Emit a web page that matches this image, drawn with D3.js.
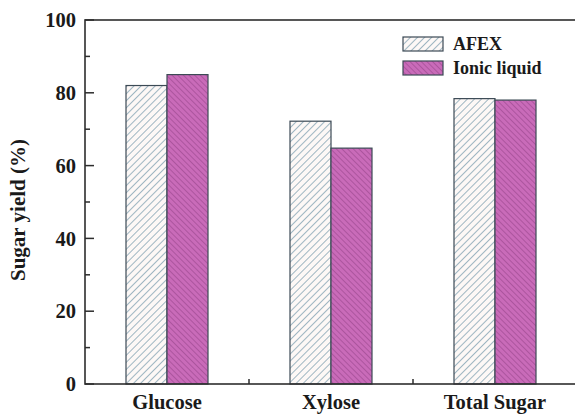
<!DOCTYPE html>
<html>
<head>
<meta charset="utf-8">
<script src="https://cdn.jsdelivr.net/npm/d3@7"></script>
<style>
  html, body { margin: 0; padding: 0; background: #fff; }
  svg { display: block; }
  text { font-family: "Liberation Serif", "DejaVu Serif", serif; font-weight: bold; fill: #1a1a1a; }
</style>
</head>
<body>
<svg id="chart" width="575" height="415"></svg>
<script>
// Sugar yields after enzymatic hydrolysis, by pretreatment
const categories = ["Glucose", "Xylose", "Total Sugar"];
const seriesNames = ["AFEX", "Ionic liquid"];
const afexValues = [82.0, 72.2, 78.4];
const ionicValues = [85.0, 64.8, 78.0];
const majorTicks = [0, 20, 40, 60, 80, 100];
const minorTicks = [10, 30, 50, 70, 90];

const svg = d3.select("#chart");
const plotLeft = 85, plotRight = 577, plotTop = 20, plotBottom = 384;

const x = d3.scaleBand().domain(categories).range([plotLeft, plotRight])
  .paddingInner(0.5).paddingOuter(0.25);
const xs = d3.scaleBand().domain(seriesNames).range([0, x.bandwidth()]);
const y = d3.scaleLinear().domain([0, 100]).range([plotBottom, plotTop]);

// hatch patterns
const defs = svg.append("defs");
const pA = defs.append("pattern").attr("id", "hatchA")
  .attr("patternUnits", "userSpaceOnUse").attr("width", 5).attr("height", 5)
  .attr("patternTransform", "rotate(45)");
pA.append("rect").attr("width", 5).attr("height", 5).attr("fill", "#fdf8f6");
pA.append("line").attr("x1", 0).attr("y1", 0).attr("x2", 0).attr("y2", 5)
  .attr("stroke", "#9fb6c2").attr("stroke-width", 2);

const pI = defs.append("pattern").attr("id", "hatchI")
  .attr("patternUnits", "userSpaceOnUse").attr("width", 4).attr("height", 4)
  .attr("patternTransform", "rotate(-45)");
pI.append("rect").attr("width", 4).attr("height", 4).attr("fill", "#c96bb9");
pI.append("line").attr("x1", 0).attr("y1", 0).attr("x2", 0).attr("y2", 4)
  .attr("stroke", "#a24d95").attr("stroke-width", 1.5);

const fills = ["url(#hatchA)", "url(#hatchI)"];
const series = [afexValues, ionicValues];

// bars
series.forEach((vals, si) => {
  svg.append("g").selectAll("rect").data(categories).join("rect")
    .attr("x", (c) => x(c) + xs(seriesNames[si]))
    .attr("y", (c, i) => y(vals[i]))
    .attr("width", xs.bandwidth())
    .attr("height", (c, i) => y(0) - y(vals[i]))
    .attr("fill", fills[si])
    .attr("stroke", "#3c4a55").attr("stroke-width", 1.2);
});

// frame
svg.append("rect").attr("x", plotLeft).attr("y", plotTop)
  .attr("width", plotRight - plotLeft).attr("height", plotBottom - plotTop)
  .attr("fill", "none").attr("stroke", "#2d2d2d").attr("stroke-width", 1.6);

// y axis ticks (inward) and labels
const yAxis = svg.append("g");
yAxis.append("g").selectAll("line").data(majorTicks).join("line")
  .attr("x1", plotLeft).attr("x2", plotLeft + 9)
  .attr("y1", (d) => y(d)).attr("y2", (d) => y(d))
  .attr("stroke", "#2d2d2d").attr("stroke-width", 1.5);
yAxis.append("g").selectAll("line").data(minorTicks).join("line")
  .attr("x1", plotLeft).attr("x2", plotLeft + 5)
  .attr("y1", (d) => y(d)).attr("y2", (d) => y(d))
  .attr("stroke", "#2d2d2d").attr("stroke-width", 1.5);
yAxis.append("g").selectAll("text").data(majorTicks).join("text")
  .attr("x", plotLeft - 9).attr("y", (d) => y(d))
  .attr("dy", "0.35em").attr("text-anchor", "end")
  .attr("font-size", 20.5).text((d) => d);

// x axis: minor ticks midway between neighbouring categories
const center = (c) => x(c) + x.bandwidth() / 2;
svg.append("g").selectAll("line").data(categories.slice(1)).join("line")
  .attr("x1", (c) => center(c) - x.step() / 2)
  .attr("x2", (c) => center(c) - x.step() / 2)
  .attr("y1", plotBottom).attr("y2", plotBottom - 5)
  .attr("stroke", "#2d2d2d").attr("stroke-width", 1.5);
svg.append("g").selectAll("text").data(categories).join("text")
  .attr("x", center).attr("y", 409)
  .attr("text-anchor", "middle").attr("font-size", 20.5).text((c) => c);

// y axis title
svg.append("text")
  .attr("transform", `translate(25,${(plotTop + plotBottom) / 2 + 8}) rotate(-90)`)
  .attr("text-anchor", "middle").attr("font-size", 21)
  .text("Sugar yield (%)");

// legend
const legend = svg.append("g").attr("transform", "translate(403,37)");
seriesNames.forEach((name, i) => {
  const g = legend.append("g").attr("transform", `translate(0,${i * 24})`);
  g.append("rect").attr("width", 40).attr("height", 14)
    .attr("fill", fills[i]).attr("stroke", "#3c4a55").attr("stroke-width", 1.2);
  g.append("text").attr("x", 50).attr("y", 7).attr("dy", "0.35em")
    .attr("font-size", 18).text(name);
});
</script>
</body>
</html>
